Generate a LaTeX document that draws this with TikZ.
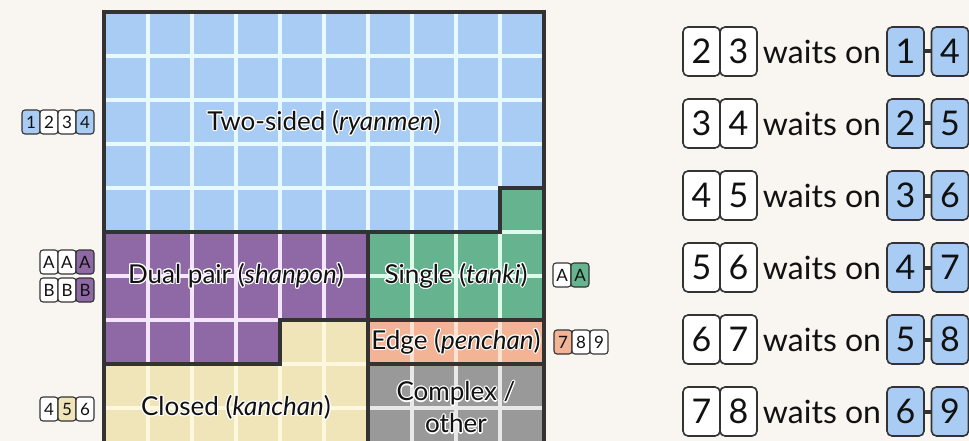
\documentclass[tikz,border=0pt]{standalone}
\usepackage{fontspec}
\setmainfont{Lato}
\usepackage[copies]{contour}
\contourlength{1.1pt}
\definecolor{bg}{HTML}{F9F6F1}
\definecolor{bord}{HTML}{333333}
\definecolor{txt}{HTML}{111111}
\definecolor{cblue}{HTML}{A9CCF4}
\definecolor{cbluel}{HTML}{E6FAFF}
\definecolor{cpurple}{HTML}{8E69A6}
\definecolor{cpurplel}{HTML}{F4E6FF}
\definecolor{cgreen}{HTML}{66B38F}
\definecolor{cgreenl}{HTML}{DDFAEA}
\definecolor{cyellow}{HTML}{F0E5B9}
\definecolor{cyellowl}{HTML}{FFF8DE}
\definecolor{corange}{HTML}{F2B494}
\definecolor{corangel}{HTML}{FCE3D4}
\definecolor{cgray}{HTML}{999999}
\definecolor{cgrayl}{HTML}{E8E8E8}
\newcommand\wregion[2]{%
  \begin{scope}
    \clip #1;
    \fill[#2] (90,0) rectangle (560,460);
    \draw[gridln,#2l] \foreach \i in {1,...,9} {(104+44*\i,0) -- (104+44*\i,460)}
      \foreach \j in {1,...,9} {(90,12+44*\j) -- (560,12+44*\j)};
  \end{scope}
  \draw[regborder] #1;}
\begin{document}
\begin{tikzpicture}[x=1pt,y=-1pt,
  smalltile/.style={draw=bord,line width=1.1pt,rounded corners=3pt,minimum width=18pt,minimum height=24pt,inner sep=0pt,text=txt,font=\fontsize{17}{17}\selectfont},
  bigtile/.style={draw=bord,line width=1.6pt,rounded corners=5pt,minimum width=37pt,minimum height=49pt,inner sep=0pt,text=txt,font=\fontsize{34}{34}\selectfont},
  waitlbl/.style={anchor=base,inner sep=0pt,text=txt,font=\fontsize{32}{32}\selectfont},
  reglbl/.style={inner sep=0pt,text=txt,font=\fontsize{26}{32}\selectfont,align=center},
  gridln/.style={line width=4pt},
  regborder/.style={draw=bord,line width=4pt,line join=miter}]
\useasboundingbox (0,0) rectangle (969,441);
\fill[bg] (0,0) rectangle (969,441);
\begin{scope}
\clip (0,0) rectangle (969,441);
\wregion{(104,12) -- (544,12) -- (544,188) -- (500,188) -- (500,232) -- (104,232) -- cycle}{cblue}
\wregion{(500,188) -- (544,188) -- (544,320) -- (368,320) -- (368,232) -- (500,232) -- cycle}{cgreen}
\wregion{(104,232) -- (368,232) -- (368,320) -- (280,320) -- (280,364) -- (104,364) -- cycle}{cpurple}
\wregion{(368,320) -- (544,320) -- (544,364) -- (368,364) -- cycle}{corange}
\wregion{(280,320) -- (368,320) -- (368,452) -- (104,452) -- (104,364) -- (280,364) -- cycle}{cyellow}
\wregion{(368,364) -- (544,364) -- (544,452) -- (368,452) -- cycle}{cgray}
\draw[regborder] (104,12) rectangle (544,452);
\end{scope}
% region labels
\node[reglbl] (two) at (324,123) {\contour{white}{Two-sided (\textit{ryanmen})}};
\node[reglbl] (dual) at (236,276) {\contour{white}{Dual pair (\textit{shanpon})}};
\node[reglbl] (single) at (456,276) {\contour{white}{Single (\textit{tanki})}};
\node[reglbl] (edge) at (456,342) {\contour{white}{Edge (\textit{penchan})}};
\node[reglbl] (closed) at (236,408) {\contour{white}{Closed (\textit{kanchan})}};
\node[reglbl] (complex) at (456,408) {\contour{white}{Complex /}\\\contour{white}{other}};
% left example tiles
\node[smalltile,fill=cblue] (s1) at (31,122) {1};
\node[smalltile,fill=white] (s2) at (49,122) {2};
\node[smalltile,fill=white] (s3) at (67,122) {3};
\node[smalltile,fill=cblue] (s4) at (85,122) {4};
\node[smalltile,fill=white] (a1) at (49,262) {A};
\node[smalltile,fill=white] (a2) at (67,262) {A};
\node[smalltile,fill=cpurple] (a3) at (85,262) {A};
\node[smalltile,fill=white] (b1) at (49,290) {B};
\node[smalltile,fill=white] (b2) at (67,290) {B};
\node[smalltile,fill=cpurple] (b3) at (85,290) {B};
\node[smalltile,fill=white] (k4) at (49,409) {4};
\node[smalltile,fill=cyellow] (k5) at (67,409) {5};
\node[smalltile,fill=white] (k6) at (85,409) {6};
\node[smalltile,fill=white] (t1) at (562,275) {A};
\node[smalltile,fill=cgreen] (t2) at (580,275) {A};
\node[smalltile,fill=corange] (p7) at (563,342) {7};
\node[smalltile,fill=white] (p8) at (581,342) {8};
\node[smalltile,fill=white] (p9) at (599,342) {9};
% right: waits
\foreach \k/\a/\b/\c/\d in {0/2/3/1/4,1/3/4/2/5,2/4/5/3/6,3/5/6/4/7,4/6/7/5/8,5/7/8/6/9} {
  \pgfmathsetmacro\yc{51.5+72*\k}
  \node[bigtile,fill=white] (ha\k) at (701.5,\yc) {\a};
  \node[bigtile,fill=white] (hb\k) at (738.5,\yc) {\b};
  \node[waitlbl] (w\k) at (822,\yc+12) {waits on};
  \node[bigtile,fill=cblue] (ga\k) at (905.5,\yc) {\c};
  \node[bigtile,fill=cblue] (gb\k) at (950,\yc) {\d};
  \draw[bord,line width=4pt] (ga\k.east) -- (gb\k.west);
}
\end{tikzpicture}
\end{document}
